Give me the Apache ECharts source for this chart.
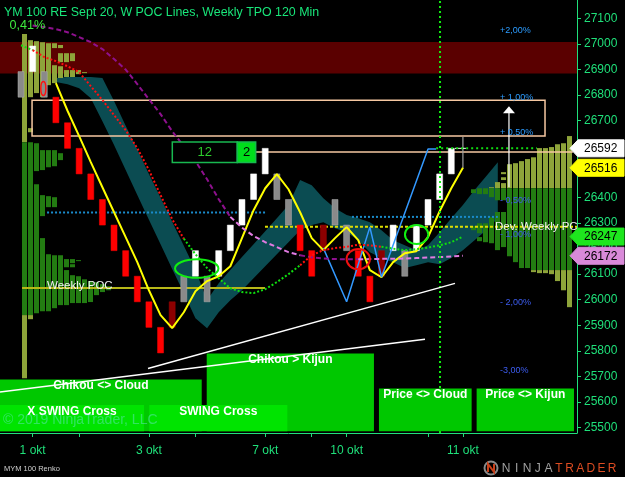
<!DOCTYPE html>
<html><head><meta charset="utf-8">
<script src="https://cdn.jsdelivr.net/npm/echarts@6/dist/echarts.min.js"></script>
<style>html,body{margin:0;padding:0;background:#000;}#c{width:625px;height:477px;}</style>
</head><body><div id="c"></div>
<script>
// ---------------- DATA ----------------
const titleText = 'YM 100 RE Sept 20, W POC Lines, Weekly TPO 120 Min';
const changeText = '0,41%';
const footText = 'MYM 100 Renko';
const watermarkText = '\u00A9 2019 NinjaTrader, LLC';

const xTickIdx = [1, 5, 11, 15, 21, 25, 28, 35, 38];
const xLabelIdx = [1, 11, 21, 28, 38];
const xLabelText = ['1 okt', '3 okt', '7 okt', '10 okt', '11 okt'];
const yTickValues = [25500,25600,25700,25800,25900,26000,26100,26200,26300,26400,26500,26600,26700,26800,26900,27000,27100];

// Renko bricks (index = bar number)
const candleLow  = [26792,26892,26792,26692,26592,26492,26392,26292,26192,26092,25992,25892,25792,25892,25992,26092,25992,26092,26192,26292,26392,26492,26392,26292,26192,26092,26192,26292,26192,26092,25992,26092,26192,26092,26192,26292,26392,26492];
const candleHigh = [26892,26992,26892,26792,26692,26592,26492,26392,26292,26192,26092,25992,25892,25992,26092,26192,26092,26192,26292,26392,26492,26592,26492,26392,26292,26192,26292,26392,26292,26192,26092,26192,26292,26192,26292,26392,26492,26592];
const candleKind = ['G','W','G','R','R','R','R','R','R','R','R','R','R','D','G','W','G','W','W','W','W','W','G','G','R','R','D','G','G','R','R','D','W','G','W','W','W','W'];
const formingBar = [38, 26513, 26637, 26592];

// yellow line, bars 3..38
const yellowStart = 3;
const yellowVal = [26847,26739,26640,26538,26440,26342,26245,26147,26037,25940,25889,25951,26033,26073,26092,26131,26241,26350,26436,26491,26432,26342,26241,26194,26241,26284,26233,26116,26088,26147,26182,26190,26245,26346,26436,26516];
// blue swing line vertices
const blueIdx = [26, 28, 30, 31, 35, 35.7];
const blueVal = [26202, 25992, 26284, 26089, 26589, 26589];
// dotted baseline, bars 0..38 (G = green, R = red segment)
const kijunVal = [26995,26976,26949,26933,26913,26890,26835,26781,26722,26663,26593,26507,26409,26315,26239,26178,26124,26084,26045,26030,26026,26041,26069,26100,26135,26174,26194,26202,26207,26215,26213,26207,26200,26194,26198,26204,26213,26225,26247];
const kijunSide = 'GRRRRRRRRRRRRRGGGGGGGGGGRRRRRRRGGGGGGGG';
// dashed curve, bars 1..38 (P = purple, K = pink segment)
const curveStart = 1;
const curveVal = [27072,27066,27058,27046,27027,27007,26980,26941,26900,26843,26784,26726,26659,26600,26542,26471,26393,26324,26282,26249,26225,26206,26186,26174,26166,26161,26159,26158,26158,26159,26160,26160,26161,26163,26165,26167,26169,26172];
const curveSide = 'PPPPPPPPPPPPPPPPPKKKKKKPPPPPKKKKKKKKKK';
// cloud
const cloudIdx = [3,4,5,6,7,8,9,10,11,12,13,14,15,16,17,18,19,20,21,22,23,24,25,26,27,28,29,30,31,32,33,34,35,36,37,38,39,40,41];
const cloudTop = [26867,26871,26871,26871,26867,26777,26680,26587,26492,26399,26305,26211,26116,25998,26065,26116,26167,26217,26268,26319,26370,26468,26448,26397,26358,26331,26319,26303,26272,26233,26213,26194,26213,26264,26319,26370,26429,26483,26538];
const cloudBot = [26851,26843,26827,26788,26698,26605,26507,26410,26313,26217,26120,26026,25928,25889,25951,25998,26037,26084,26131,26178,26225,26272,26292,26303,26280,26264,26233,26186,26163,26147,26124,26135,26147,26139,26163,26194,26233,26272,26319];

// TPO profiles: per column list of [high, low]
const leftProfile = [
  [[27039,25693]],
  [[27015,26792],[26671,26655],[26616,25924]],
  [[27011,26808],[26612,26503],[26452,25947]],
  [[27007,26792],[26585,26507],[26409,26327],[26241,25955]],
  [[27003,26839],[26585,26518],[26405,26362],[26178,25955]],
  [[27003,26984],[26917,26847],[26585,26522],[26401,26362],[26174,25967]],
  [[26996,26984],[26964,26929],[26913,26867],[26573,26546],[26174,25979]],
  [[26964,26929],[26898,26871],[26159,26127],[26116,25979]],
  [[26964,26933],[26898,26871],[26159,26143],[26139,26127],[26096,25987]],
  [[26898,26882],[26155,26151],[26092,25987]],
  [[26890,26886],[26080,25987]],
  [[26073,25991]],
  [[26069,26018]],
  [[26061,26030]],
  [[26053,26037]]
];
const leftVA = [25940, 26616];
const rightProfile = [
  [[26640,25971]],
  [[26612,26037]],
  [[26608,26073]],
  [[26597,26100]],
  [[26593,26104]],
  [[26593,26104]],
  [[26557,26108]],
  [[26550,26124]],
  [[26542,26124]],
  [[26534,26147]],
  [[26530,26170]],
  [[26499,26491],[26479,26468],[26456,26389],[26343,26206]],
  [[26460,26389],[26343,26194]],
  [[26440,26401],[26323,26221]],
  [[26436,26413],[26299,26225]],
  [[26436,26413],[26299,26260],[26245,26229]],
  [[26432,26417],[26288,26272]]
];
const rightVA = [26116, 26436];

// levels
const bandRange = [26885, 27008];
const targetBox = [0.95, 45.06, 26640, 26780];
const peachLevel = [20.18, 47.46, 26578];
const weeklyPoc = [0.09, 20.98, 26046];
const devPoc = [20.98, 47.81, 26285];
const blueLevelA = [2.24, 21.15, 26341];
const blueLevelB = [28.46, 41.0, 26324];
const closeLevel = [35.7, 44.37, 26592];
const sessionBarIdx = 36.03;
const trendA = [[10.92, 25731], [37.32, 26064]];
const trendB = [[-1.806, 25639], [34.74, 25846]];
const arrowPos = [41.96, 26440, 26757];
const countBox = [13.01, 18.6, 20.18, 26537, 26617];
const countText = ['12', '2'];

const pctText = ['+2,00%', '+ 1,00%', '+ 0,50%', '- 0,50%', '- 1,00%', '- 2,00%', '-3,00%'];
const pctPrice = [27054, 26790, 26654, 26389, 26256, 25990, 25725];
const pctIdx = 41.19;

const pocLabels = ['Weekly POC', 'Dev. Weekly PC'];
const pocLabelPos = [[2.24, 26054], [40.76, 26285]];

const ellipseCenter = [[1.92, 26826], [15.11, 26122], [34.02, 26255], [29.0, 26159]];

const signalLabel = ['Chikou <> Cloud', 'Chikou > Kijun', 'X SWING Cross', 'SWING Cross', 'Price <> Cloud', 'Price <> Kijun'];
const signalFrom = [-1.806, 15.97, -1.806, 11.03, 30.78, 39.18];
const signalTo   = [15.54, 30.35, 10.58, 22.9, 38.75, 47.55];
const signalTop  = [25688, 25790, 25588, 25588, 25653, 25653];
const signalBottom = 25486;

const tagPrice = [26592, 26516, 26247, 26172];

// ---------------- STYLE ----------------
const FONT = 'Liberation Sans, Arial, sans-serif';
const AX = '#1fe07a';
const candleFill = {G:'#8a8a8a', W:'#ffffff', R:'#ff0000', D:'#8c0000'};
const candleStroke = {G:'#b0b0b0', W:'#ffffff', R:'#ff0000', D:'#a00000'};
const OLIVE = '#8ea43a', PGREEN = '#237c12';
const ellipseStyle = [
  {rx:2.5, ry:7, c:'#ff1010', w:1.5},
  {rx:21.7, ry:9.3, c:'#10ee10', w:2},
  {rx:11.7, ry:9.5, c:'#10ee10', w:2},
  {rx:11.7, ry:10, c:'#ee1010', w:2}
];
const signalFill = ['#00c800', '#00c800', '#00e400', '#00e400', '#00c800', '#00c800'];
const tagFill = ['#ffffff', '#ffff00', '#1ee61e', '#d98ad9'];

function txt(x, y, text, fill, font, align, valign) {
  return {type:'text', x, y, style:{text, fill, font, align: align||'left', textAlign: align||'left',
    verticalAlign: valign||'middle', textVerticalAlign: valign||'middle'}};
}

const series = [];
let zc = 1;
function add(s) { s.z = zc++; s.animation = false; s.silent = true; series.push(s); }
function line(pts, color, width, type) {
  add({type:'line', data:pts, symbol:'none', clip:true, lineStyle:{color, width, type: type||'solid'}});
}

// red band
add({type:'custom', data:[[0]], renderItem:(p, api) => {
  const cs = p.coordSys; const a = api.coord([0, bandRange[1]]), b = api.coord([0, bandRange[0]]);
  return {type:'rect', shape:{x:cs.x, y:a[1], width:cs.width, height:b[1]-a[1]}, style:{fill:'#5a0000'}};
}});

// cloud
add({type:'custom', data:[[0]], renderItem:(p, api) => {
  const pts = [];
  for (let k = 0; k < cloudIdx.length; k++) pts.push(api.coord([cloudIdx[k], cloudTop[k]]));
  for (let k = cloudIdx.length - 1; k >= 0; k--) pts.push(api.coord([cloudIdx[k], cloudBot[k]]));
  return {type:'polygon', shape:{points:pts}, style:{fill:'#0b4c52'}};
}});

// profiles
const profData = [];
leftProfile.forEach((segs, c) => segs.forEach(s => profData.push([0, c, s[0], s[1]])));
rightProfile.forEach((segs, c) => segs.forEach(s => profData.push([1, c, s[0], s[1]])));
add({type:'custom', data:profData, encode:{x:1, y:2}, renderItem:(p, api) => {
  const side = api.value(0), col = api.value(1), hi = api.value(2), lo = api.value(3);
  const cs = p.coordSys;
  const yHi = api.coord([0, hi])[1], yLo = api.coord([0, lo])[1];
  const va = side === 0 ? leftVA : rightVA;
  const vHi = api.coord([0, va[1]])[1], vLo = api.coord([0, va[0]])[1];
  const x = side === 0 ? api.coord([0, hi])[0] + 1 + 6 * col : cs.x + cs.width - 10 - 6 * col;
  const ch = [];
  const seg = (y0, y1, f) => { if (y1 - y0 > 0.3) ch.push({type:'rect', shape:{x, y:y0, width:5, height:y1-y0}, style:{fill:f}}); };
  seg(yHi, Math.min(yLo, vHi), OLIVE);
  seg(Math.max(yHi, vHi), Math.min(yLo, vLo), PGREEN);
  seg(Math.max(yHi, vLo), yLo, OLIVE);
  return {type:'group', children:ch};
}});

// target box and levels
add({type:'custom', data:[[0]], renderItem:(p, api) => {
  const a = api.coord([targetBox[0], targetBox[3]]), b = api.coord([targetBox[1], targetBox[2]]);
  return {type:'rect', shape:{x:a[0], y:a[1], width:b[0]-a[0], height:b[1]-a[1]}, style:{fill:null, stroke:'#f6c8a2', lineWidth:1.5}};
}});
line([[peachLevel[0], peachLevel[2]], [peachLevel[1], peachLevel[2]]], '#f6c8a2', 1.5);
line([[weeklyPoc[0], weeklyPoc[2]], [weeklyPoc[1], weeklyPoc[2]]], '#b8b818', 2);
line([[devPoc[0], devPoc[2]], [devPoc[1], devPoc[2]]], '#dede00', 2, [3, 2]);
line([[blueLevelA[0], blueLevelA[2]], [blueLevelA[1], blueLevelA[2]]], '#1a8ccc', 2, [2, 2]);
line([[blueLevelB[0], blueLevelB[2]], [blueLevelB[1], blueLevelB[2]]], '#1a8ccc', 2, [2, 2]);

// candles
add({type:'custom', data:candleLow.map((lo, i) => [i, lo, candleHigh[i]]), renderItem:(p, api) => {
  const i = api.value(0); const k = candleKind[p.dataIndex];
  const a = api.coord([i, api.value(2)]), b = api.coord([i, api.value(1)]);
  return {type:'rect', shape:{x:a[0]-3, y:a[1], width:6, height:b[1]-a[1]}, style:{fill:candleFill[k], stroke:candleStroke[k], lineWidth:0.5}};
}});
// forming bar
add({type:'custom', data:[formingBar], renderItem:(p, api) => {
  const a = api.coord([api.value(0), api.value(2)]), b = api.coord([api.value(0), api.value(1)]), c = api.coord([api.value(0), api.value(3)]);
  return {type:'group', children:[
    {type:'line', shape:{x1:a[0], y1:a[1], x2:b[0], y2:b[1]}, style:{stroke:'#a0a0a0', lineWidth:1.2}},
    {type:'line', shape:{x1:c[0]-8, y1:c[1], x2:c[0]+3, y2:c[1]}, style:{stroke:'#ffffff', lineWidth:1}}
  ]};
}});

// lines
line(yellowVal.map((v, k) => [yellowStart + k, v]), '#ffff00', 2);
line(blueIdx.map((x, k) => [x, blueVal[k]]), '#3399ff', 1.5);
function runs(vals, start, flags) {
  const out = []; let cur = null;
  for (let k = 0; k < vals.length - 1; k++) {
    const f = flags[k];
    if (!cur || cur.f !== f) { cur = {f, pts:[[start + k, vals[k]]]}; out.push(cur); }
    cur.pts.push([start + k + 1, vals[k + 1]]);
  }
  return out;
}
runs(curveVal, curveStart, curveSide).forEach(r => line(r.pts, r.f === 'P' ? '#8e108e' : '#e27ae2', 2, [5, 3]));
runs(kijunVal, 0, kijunSide).forEach(r => line(r.pts, r.f === 'G' ? '#10dd10' : '#ff1010', 2, [2, 2]));
line([[closeLevel[0], closeLevel[2]], [closeLevel[1], closeLevel[2]]], '#10dd10', 2, [2, 3]);
line([[sessionBarIdx, 25479], [sessionBarIdx, 27172]], '#10ee10', 2, [2, 3]);

// ellipses
add({type:'custom', data:ellipseCenter, renderItem:(p, api) => {
  const c = api.coord([api.value(0), api.value(1)]); const s = ellipseStyle[p.dataIndex];
  return {type:'ellipse', shape:{cx:c[0], cy:c[1], rx:s.rx, ry:s.ry}, style:{fill:null, stroke:s.c, lineWidth:s.w}};
}});

// count box "12 | 2"
add({type:'custom', data:[[0]], renderItem:(p, api) => {
  const a = api.coord([countBox[0], countBox[4]]), m = api.coord([countBox[1], countBox[3]]), b = api.coord([countBox[2], countBox[3]]);
  return {type:'group', children:[
    {type:'rect', shape:{x:a[0], y:a[1], width:m[0]-a[0], height:m[1]-a[1]}, style:{fill:'#000', stroke:'#18b850', lineWidth:1.5}},
    {type:'rect', shape:{x:m[0], y:a[1], width:b[0]-m[0], height:m[1]-a[1]}, style:{fill:'#00dd1c', stroke:'#18b850', lineWidth:1.5}},
    txt((a[0]+m[0])/2, (a[1]+m[1])/2 + 0.5, countText[0], '#2ccc2c', '13px ' + FONT, 'center'),
    txt((m[0]+b[0])/2, (a[1]+m[1])/2 + 0.5, countText[1], '#000', '13px ' + FONT, 'center')
  ]};
}});

// arrow
add({type:'custom', data:[arrowPos], renderItem:(p, api) => {
  const b = api.coord([api.value(0), api.value(1)]), t = api.coord([api.value(0), api.value(2)]);
  return {type:'group', children:[
    {type:'line', shape:{x1:b[0], y1:b[1], x2:t[0], y2:t[1]+6}, style:{stroke:'#fff', lineWidth:1.2}},
    {type:'polygon', shape:{points:[[t[0], t[1]], [t[0]-6, t[1]+7], [t[0]+6, t[1]+7]]}, style:{fill:'#fff'}}
  ]};
}});

// percent labels
add({type:'custom', data:pctPrice.map(v => [pctIdx, v]), renderItem:(p, api) => {
  const c = api.coord([api.value(0), api.value(1)]); const i = p.dataIndex;
  return txt(c[0], c[1], pctText[i], i < 3 ? '#2c9cff' : '#3c5cf0', '9px ' + FONT, 'left');
}});

// POC labels (clipped to plot)
add({type:'custom', clip:true, data:pocLabelPos, renderItem:(p, api) => {
  const c = api.coord([api.value(0), api.value(1)]);
  return txt(c[0], c[1], pocLabels[p.dataIndex], '#f2f2f2', '11.5px ' + FONT, 'left');
}});

// signal boxes
add({type:'custom', data:signalLabel.map((s, i) => [signalFrom[i], signalTop[i], signalTo[i]]), renderItem:(p, api) => {
  const i = p.dataIndex;
  const a = api.coord([api.value(0), api.value(1)]), b = api.coord([api.value(2), signalBottom]);
  return {type:'group', children:[
    {type:'rect', shape:{x:a[0], y:a[1], width:b[0]-a[0], height:b[1]-a[1]}, style:{fill:signalFill[i]}},
    txt((a[0]+b[0])/2, a[1] + 6.5, signalLabel[i], '#ffffff', 'bold 12px ' + FONT, 'center')
  ]};
}});

// trend lines
line(trendA, '#ffffff', 1.5);
line(trendB, '#ffffff', 1.5);

// price tags on the axis
add({type:'custom', data:tagPrice.map(v => [0, v]), renderItem:(p, api) => {
  const cs = p.coordSys; const y = api.coord([0, api.value(1)])[1]; const x0 = cs.x + cs.width;
  const i = p.dataIndex;
  return {type:'group', children:[
    {type:'polygon', shape:{points:[[x0-7, y], [x0+1, y-8.5], [624, y-8.5], [624, y+8.5], [x0+1, y+8.5]]}, style:{fill:tagFill[i], stroke:tagFill[i], lineWidth:1}},
    txt(x0 + 7, y + 0.5, String(tagPrice[i]), '#000', '12px ' + FONT, 'left')
  ]};
}});

// ---------------- CHART ----------------
const logoLetters = 'NINJATRADER';
const graphic = [
  Object.assign(txt(4, 12.5, titleText, '#19e67a', '12.4px ' + FONT, 'left'), {z:100}),
  Object.assign(txt(9.5, 26, changeText, '#3ee83e', '12.6px ' + FONT, 'left'), {z:100}),
  Object.assign(txt(4, 469, footText, '#d0d0d0', '7.5px ' + FONT, 'left'), {z:100}),
  Object.assign(txt(3, 420, watermarkText, 'rgba(130,230,255,0.38)', '14px ' + FONT, 'left'), {z:100}),
  {type:'circle', z:100, shape:{cx:491, cy:468, r:6.5}, style:{fill:null, stroke:'#8a8a8a', lineWidth:2}},
  {type:'polyline', z:100, shape:{points:[[488, 472], [488, 464], [494, 472], [494, 464]]}, style:{stroke:'#c8401a', lineWidth:2, fill:null}}
];
for (let k = 0; k < logoLetters.length; k++) {
  graphic.push(Object.assign(txt(506 + 10.6 * k, 468.5, logoLetters[k], k < 5 ? '#a0a0a0' : '#dc4c22', '12px ' + FONT, 'center'), {z:100}));
}

const chart = echarts.init(document.getElementById('c'), null, {renderer:'canvas', width:625, height:477});
chart.setOption({
  backgroundColor: '#000',
  animation: false,
  grid: {left:0, right:48, top:0, bottom:44, containLabel:false},
  xAxis: {
    type:'value', min:-1.806, max:47.81,
    axisLine:{show:true, onZero:false, lineStyle:{color:AX, width:1}},
    axisTick:{show:true, length:4, lineStyle:{color:AX}, customValues:xTickIdx},
    axisLabel:{show:true, color:AX, fontSize:12, fontFamily:FONT, margin:12, customValues:xLabelIdx,
      formatter:v => { const k = xLabelIdx.indexOf(Math.round(v)); return k >= 0 ? xLabelText[k] : ''; }},
    splitLine:{show:false}
  },
  yAxis: {
    type:'value', position:'right', min:25479, max:27172,
    axisLine:{show:true, onZero:false, lineStyle:{color:AX, width:1}},
    axisTick:{show:true, length:4, lineStyle:{color:AX}, customValues:yTickValues},
    axisLabel:{show:true, color:AX, fontSize:12, fontFamily:FONT, margin:7, customValues:yTickValues,
      formatter:v => String(Math.round(v))},
    splitLine:{show:false}
  },
  graphic: graphic,
  series: series
});
</script></body></html>
